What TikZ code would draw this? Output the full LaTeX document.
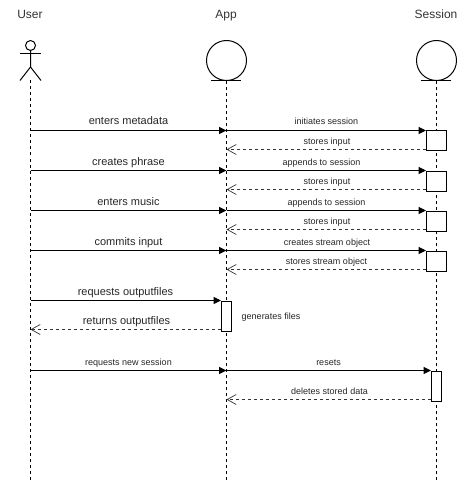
\documentclass[tikz,border=0pt]{standalone}
\usepackage{fontspec}
\setmainfont{Liberation Sans}
\usetikzlibrary{arrows.meta}
\tikzset{
  x=1pt,y=-1pt,
  line/.style={line width=1pt,black},
  life/.style={line width=0.85pt,black,dash pattern=on 3pt off 3pt},
  entity/.style={circle,draw,line width=1pt,minimum size=40pt,inner sep=0pt},
  head/.style={circle,draw,line width=1pt,minimum size=10pt,inner sep=0pt},
  act/.style={rectangle,draw,fill=white,line width=1pt,inner sep=0pt,minimum width=#1,anchor=north},
  call/.style={line,-{Triangle[length=7.5pt,width=7pt]}},
  ret/.style={line width=0.85pt,black!80,dash pattern=on 3pt off 3pt,-{Straight Barb[length=9pt,width=10pt,line width=0.7pt]}},
  title/.style={font=\fontsize{12}{14}\selectfont,text=black!80,inner sep=0pt,anchor=base},
  big/.style={font=\fontsize{11}{13}\selectfont,text=black!85,inner sep=0pt,anchor=base},
  small/.style={font=\fontsize{9}{11}\selectfont,text=black!85,inner sep=0pt,anchor=base},
}
\begin{document}
\begin{tikzpicture}
\useasboundingbox (0,0) rectangle (467,481);
% headers
\node[title] (tu) at (30,19) {User};
\node[title] (ta) at (226,19) {App};
\node[title] (ts) at (436,19) {Session};
% actor
\node[head] (h) at (30.5,45.5) {};
\coordinate (hip) at (30.5,67);
\coordinate (ub) at (30.5,80.5);
\coordinate (ue) at (30.5,481);
\draw[line] (h.south) -- (hip) -- (20,80.5);
\draw[line] (hip) -- (41,80.5);
\draw[line] (20,53.5) -- (41,53.5);
% entities
\node[entity] (app) at (226.5,60.5) {};
\node[entity] (ses) at (436.5,60.5) {};
\coordinate (ae) at (226.5,481);
\coordinate (se) at (436.5,481);
\draw[line] (211,80.5) -- (241,80.5);
\draw[line] (421,80.5) -- (451,80.5);
% lifelines
\draw[life] (ub) -- (ue);
\draw[life] (app.south) -- (ae);
\draw[life] (ses.south) -- (se);
% activation boxes
\node[act=20pt,minimum height=20pt] (b1) at (436.5,130.5) {};
\node[act=20pt,minimum height=20pt] (b2) at (436.5,170.5) {};
\node[act=20pt,minimum height=20pt] (b3) at (436.5,210.5) {};
\node[act=20pt,minimum height=20pt] (b4) at (436.5,250.5) {};
\node[act=10pt,minimum height=30pt] (b5) at (226.5,300.5) {};
\node[act=10pt,minimum height=30pt] (b6) at (436.5,370.5) {};
% anchor points on lifelines
\foreach \y/\n in {130.5/a,170.5/b,210.5/c,250.5/d,370.5/e}{
  \coordinate (u\n) at (30.5,\y);
  \coordinate (p\n) at (226.5,\y);
}
\foreach \y/\n in {149.5/a,189.5/b,229.5/c,269.5/d,399.5/e}{
  \coordinate (q\n) at (226.5,\y);
}
\coordinate (uf) at (30.5,300.5);
\coordinate (ug) at (30.5,329.5);
% calls
\draw[call] (ua) -- (pa);
\draw[call] (ub |- pb) -- (pb);
\draw[call] (uc) -- (pc);
\draw[call] (ud) -- (pd);
\draw[call] (pa) -- (b1.north west);
\draw[call] (pb) -- (b2.north west);
\draw[call] (pc) -- (b3.north west);
\draw[call] (pd) -- (b4.north west);
\draw[call] (uf) -- (b5.north west);
\draw[call] (ue) -- (pe);
\draw[call] (pe) -- (b6.north west);
% returns
\draw[ret] (b1.west |- qa) -- (qa);
\draw[ret] (b2.west |- qb) -- (qb);
\draw[ret] (b3.west |- qc) -- (qc);
\draw[ret] (b4.west |- qd) -- (qd);
\draw[ret] (b5.west |- ug) -- (ug);
\draw[ret] (b6.west |- qe) -- (qe);
% labels
\node[big] (l1) at (128.5,125) {enters metadata};
\node[big] (l2) at (128.5,165) {creates phrase};
\node[big] (l3) at (128.5,205) {enters music};
\node[big] (l4) at (128.5,245) {commits input};
\node[big] (l5) at (125.5,295) {requests outputfiles};
\node[big] (l6) at (126.5,324) {returns outputfiles};
\node[small] (l7) at (128.5,365) {requests new session};
\node[small] (r1) at (326.5,125) {initiates session};
\node[small] (r2) at (327,145) {stores input};
\node[small] (r3) at (321.5,165) {appends to session};
\node[small] (r4) at (327,184.5) {stores input};
\node[small] (r5) at (326.5,205) {appends to session};
\node[small] (r6) at (327,224) {stores input};
\node[small] (r7) at (327,245) {creates stream object};
\node[small] (r8) at (326.5,264) {stores stream object};
\node[small] (r9) at (271,319.5) {generates files};
\node[small] (r10) at (328.5,365) {resets};
\node[small] (r11) at (329.5,394) {deletes stored data};
\end{tikzpicture}
\end{document}
